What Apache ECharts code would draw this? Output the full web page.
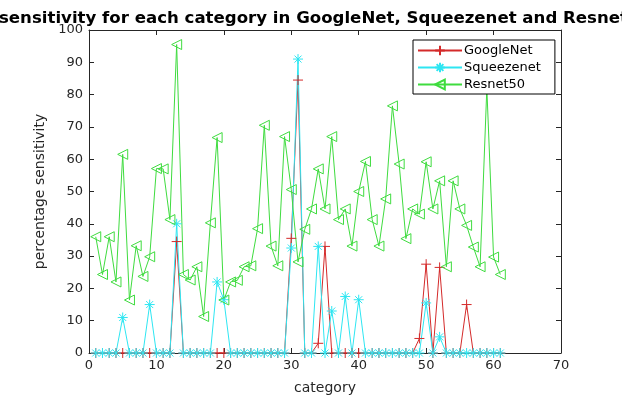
<!DOCTYPE html>
<html>
<head>
<meta charset="utf-8">
<script src="https://cdn.jsdelivr.net/npm/echarts@6/dist/echarts.min.js"></script>
<style>html,body{margin:0;padding:0;background:#fff}#c{width:622px;height:400px}</style>
</head>
<body>
<div id="c"></div>
<script>
var categories = [];
for (var i = 1; i <= 61; i++) categories.push(i);

var googlenet = [0,0,0,0,0,0,0,0,0,0, 0,0,34.5,0,0,0,0,0,0,0, 0,0,0,0,0,0,0,0,0,35.5, 84.5,0,0,3,33,0,0,0,0,0, 0,0,0,0,0,0,0,0,4.5,27.5, 0,26.5,0,0,0,15,0,0,0,0, 0];
var squeezenet = [0,0,0,0,11,0,0,0,15,0, 0,0,40,0,0,0,0,0,22,16.5, 0,0,0,0,0,0,0,0,0,32.5, 91,0,0,33,0,13,0,17.5,0,16.5, 0,0,0,0,0,0,0,0,0,15.5, 0,5,0,0,0,0,0,0,0,0, 0];
var resnet50 = [36,24.3,36,22,61.5,16.4,33.2,23.7,29.8,57.1, 57,41.3,95.5,24.3,22.6,26.7,11.3,40.3,66.7,16.4, 22,22.5,26.7,27,38.5,70.5,33.1,27,67,50.6, 28.2,38.3,44.6,57,44.6,67,41.3,44.6,33.1,50, 59.3,41.3,33.1,47.7,76.5,58.5,35.4,44.6,43,59.2, 44.6,53.3,26.7,53.3,44.6,39.5,32.8,26.7,82,29.7, 24.3];

var xTicks = [0,10,20,30,40,50,60,70];
var yTicks = [0,10,20,30,40,50,60,70,80,90,100];

function pairs(vals){ return vals.map(function(v,i){ return [categories[i], v]; }); }

var plusPath = 'path://M5 0L5 10M0 5L10 5';
var starPath = 'path://M5 0L5 10M0 5L10 5M1.5 1.5L8.5 8.5M8.5 1.5L1.5 8.5';
var triPath = 'path://M0 5L10 0L10 10Z';

var axisCol = '#262626';
var font = 'DejaVu Sans';

var chart = echarts.init(document.getElementById('c'), null, {renderer:'canvas'});
chart.setOption({
  backgroundColor: '#fff',
  animation: false,
  title: {
    text: 'sensitivity for each category in GoogleNet, Squeezenet and Resnet50',
    left: 320, top: 5, textAlign: 'center',
    textStyle: {fontFamily: font, fontWeight: 'bold', fontSize: 16.6, color: '#000'}
  },
  grid: {left: 89, right: 61, top: 30, bottom: 45, containLabel: false},
  legend: {
    left: 413, top: 40, orient: 'vertical',
    padding: [4, 14, 3, 4], itemGap: 4, itemWidth: 44, itemHeight: 12,
    borderColor: '#000', borderWidth: 1, backgroundColor: '#fff',
    textStyle: {fontFamily: font, fontSize: 13, color: '#000', padding: [0,0,0,-3]},
    data: ['GoogleNet', 'Squeezenet', 'Resnet50']
  },
  xAxis: [{
    type: 'value', min: 0, max: 70, interval: 10, position: 'bottom',
    name: 'category', nameLocation: 'middle', nameGap: 28,
    nameTextStyle: {fontFamily: font, fontSize: 14, color: axisCol},
    axisLine: {show: true, onZero: false, lineStyle: {color: axisCol, width: 1}},
    axisTick: {show: true, inside: true, length: 5, lineStyle: {color: axisCol}},
    axisLabel: {fontFamily: font, fontSize: 13, color: axisCol, margin: 6},
    splitLine: {show: false}
  }, {
    type: 'value', min: 0, max: 70, interval: 10, position: 'top',
    axisLine: {show: true, onZero: false, lineStyle: {color: axisCol, width: 1}},
    axisTick: {show: true, inside: true, length: 5, lineStyle: {color: axisCol}},
    axisLabel: {show: false}, splitLine: {show: false}
  }],
  yAxis: [{
    type: 'value', min: 0, max: 100, interval: 10, position: 'left',
    name: 'percentage sensitivity', nameLocation: 'middle', nameGap: 40,
    nameTextStyle: {fontFamily: font, fontSize: 14, color: axisCol},
    axisLine: {show: true, onZero: false, lineStyle: {color: axisCol, width: 1}},
    axisTick: {show: true, inside: true, length: 5, lineStyle: {color: axisCol}},
    axisLabel: {fontFamily: font, fontSize: 13, color: axisCol, margin: 6},
    splitLine: {show: false}
  }, {
    type: 'value', min: 0, max: 100, interval: 10, position: 'right',
    axisLine: {show: true, onZero: false, lineStyle: {color: axisCol, width: 1}},
    axisTick: {show: true, inside: true, length: 5, lineStyle: {color: axisCol}},
    axisLabel: {show: false}, splitLine: {show: false}
  }],
  series: [{
    name: 'GoogleNet', type: 'line', data: pairs(googlenet),
    symbol: plusPath, symbolSize: 10, showAllSymbol: true,
    lineStyle: {color: '#d42a2a', width: 1},
    itemStyle: {color: 'rgba(0,0,0,0)', borderColor: '#d42a2a', borderWidth: 1},
    emphasis: {disabled: true}
  }, {
    name: 'Squeezenet', type: 'line', data: pairs(squeezenet),
    symbol: starPath, symbolSize: 10, showAllSymbol: true,
    lineStyle: {color: '#2ee6f2', width: 1},
    itemStyle: {color: 'rgba(0,0,0,0)', borderColor: '#2ee6f2', borderWidth: 1},
    emphasis: {disabled: true}
  }, {
    name: 'Resnet50', type: 'line', data: pairs(resnet50),
    symbol: triPath, symbolSize: 10, showAllSymbol: true,
    lineStyle: {color: '#3fdc3f', width: 1},
    itemStyle: {color: 'rgba(0,0,0,0)', borderColor: '#3fdc3f', borderWidth: 1},
    emphasis: {disabled: true}
  }]
});
</script>
</body>
</html>
